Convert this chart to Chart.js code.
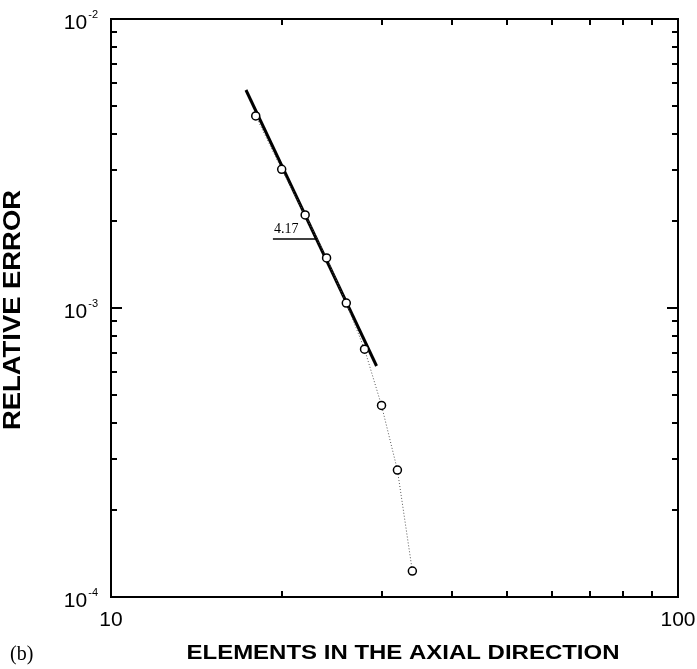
<!DOCTYPE html>
<html>
<head>
<meta charset="utf-8">
<script src="https://cdn.jsdelivr.net/npm/chart.js@4.4.0/dist/chart.umd.min.js"></script>
<style>
html,body{margin:0;padding:0;background:#fff;}
canvas{display:block;}
</style>
</head>
<body>
<canvas id="c" width="697" height="669"></canvas>
<script>
// ---- data ----
const elements = [18, 20, 22, 24, 26, 28, 30, 32, 34];
const relError = [4.62e-3, 3.02e-3, 2.10e-3, 1.49e-3, 1.04e-3, 7.2e-4, 4.6e-4, 2.75e-4, 1.23e-4];
const fitX = [17.3, 29.4];
const fitY = [5.68e-3, 6.30e-4];
const slopeX = [19.3, 23.07];
const slopeY = [1.733e-3, 1.733e-3];
const slopeLabel = "4.17";
const xMajorTicks = [10, 100];
const xMinorTicks = [20, 30, 40, 50, 60, 70, 80, 90];
const yMajorTicks = [1e-4, 1e-3, 1e-2];
const yMajorExp = ["-4", "-3", "-2"];
const xTitle = "ELEMENTS IN THE AXIAL DIRECTION";
const yTitle = "RELATIVE ERROR";
const panelLabel = "(b)";

const toPts = (xs, ys) => xs.map((x, i) => ({x: x, y: ys[i]}));

const yMinorTicks = [];
for (let d = 0; d < yMajorTicks.length - 1; d++) {
  for (let m = 2; m <= 9; m++) yMinorTicks.push(m * yMajorTicks[d]);
}

const decor = {
  id: 'decor',
  afterDraw(chart) {
    const ctx = chart.ctx;
    const a = chart.chartArea;
    const xs = chart.scales.x, ys = chart.scales.y;
    ctx.save();
    ctx.strokeStyle = '#000';
    ctx.fillStyle = '#000';
    ctx.lineWidth = 2;
    ctx.strokeRect(a.left, a.top, a.right - a.left, a.bottom - a.top);
    ctx.lineWidth = 2;
    ctx.beginPath();
    xMinorTicks.forEach(v => {
      const p = Math.round(xs.getPixelForValue(v));
      ctx.moveTo(p, a.bottom); ctx.lineTo(p, a.bottom - 6);
      ctx.moveTo(p, a.top); ctx.lineTo(p, a.top + 6);
    });
    yMinorTicks.forEach(v => {
      const p = Math.round(ys.getPixelForValue(v));
      ctx.moveTo(a.left, p); ctx.lineTo(a.left + 6, p);
      ctx.moveTo(a.right, p); ctx.lineTo(a.right - 6, p);
    });
    yMajorTicks.forEach(v => {
      const p = Math.round(ys.getPixelForValue(v));
      ctx.moveTo(a.left, p); ctx.lineTo(a.left + 11, p);
      ctx.moveTo(a.right, p); ctx.lineTo(a.right - 11, p);
    });
    ctx.stroke();

    // y tick labels 10^n
    yMajorTicks.forEach((v, i) => {
      const p = ys.getPixelForValue(v);
      ctx.font = '11px "Liberation Sans", Arial, sans-serif';
      ctx.textAlign = 'right';
      ctx.textBaseline = 'alphabetic';
      const ew = ctx.measureText(yMajorExp[i]).width;
      ctx.fillText(yMajorExp[i], a.left - 13, p - 1);
      ctx.font = '21px "Liberation Sans", Arial, sans-serif';
      ctx.fillText('10', a.left - 13 - ew - 1, p + 10);
    });
    // x tick labels
    ctx.font = '21px "Liberation Sans", Arial, sans-serif';
    ctx.textAlign = 'center';
    xMajorTicks.forEach(v => {
      const p = xs.getPixelForValue(v);
      ctx.fillText(String(v), p, 626);
    });

    // slope label
    ctx.font = '14px "Liberation Serif", "Times New Roman", serif';
    ctx.textAlign = 'left';
    ctx.fillText(slopeLabel, xs.getPixelForValue(slopeX[0]) + 1, ys.getPixelForValue(slopeY[0]) - 6);

    // x title
    ctx.font = 'bold 20px "Liberation Sans", Arial, sans-serif';
    ctx.textAlign = 'center';
    let w = ctx.measureText(xTitle).width;
    let sx = 433 / w;
    ctx.save();
    ctx.translate(403, 659);
    ctx.scale(sx, 1);
    ctx.fillText(xTitle, 0, 0);
    ctx.restore();

    // y title
    ctx.font = 'bold 23px "Liberation Sans", Arial, sans-serif';
    let wy = ctx.measureText(yTitle).width;
    ctx.save();
    ctx.translate(20, (a.top + a.bottom) / 2 + 2);
    ctx.rotate(-Math.PI / 2);
    ctx.scale(240 / wy, 1);
    ctx.textAlign = 'center';
    ctx.fillText(yTitle, 0, 0);
    ctx.restore();

    // panel label
    ctx.font = '20px "Liberation Serif", "Times New Roman", serif';
    ctx.textAlign = 'left';
    ctx.fillText(panelLabel, 10, 660);
    ctx.restore();
  }
};

new Chart(document.getElementById('c'), {
  type: 'scatter',
  data: {
    datasets: [
      {
        data: toPts(elements, relError),
        showLine: true,
        borderColor: '#555',
        borderWidth: 1,
        borderDash: [1, 2],
        pointRadius: 4,
        pointBorderWidth: 1.5,
        pointBorderColor: '#000',
        pointBackgroundColor: '#fff'
      },
      {
        data: toPts(fitX, fitY),
        showLine: true,
        borderColor: '#000',
        borderWidth: 3,
        pointRadius: 0
      },
      {
        data: toPts(slopeX, slopeY),
        showLine: true,
        borderColor: '#000',
        borderWidth: 1.5,
        pointRadius: 0
      }
    ]
  },
  options: {
    responsive: false,
    animation: false,
    layout: {padding: {left: 111, right: 19, top: 19, bottom: 72}},
    plugins: {legend: {display: false}, tooltip: {enabled: false}},
    scales: {
      x: {type: 'logarithmic', min: 10, max: 100, display: false},
      y: {type: 'logarithmic', min: 1e-4, max: 1e-2, display: false}
    }
  },
  plugins: [decor]
});
</script>
</body>
</html>
